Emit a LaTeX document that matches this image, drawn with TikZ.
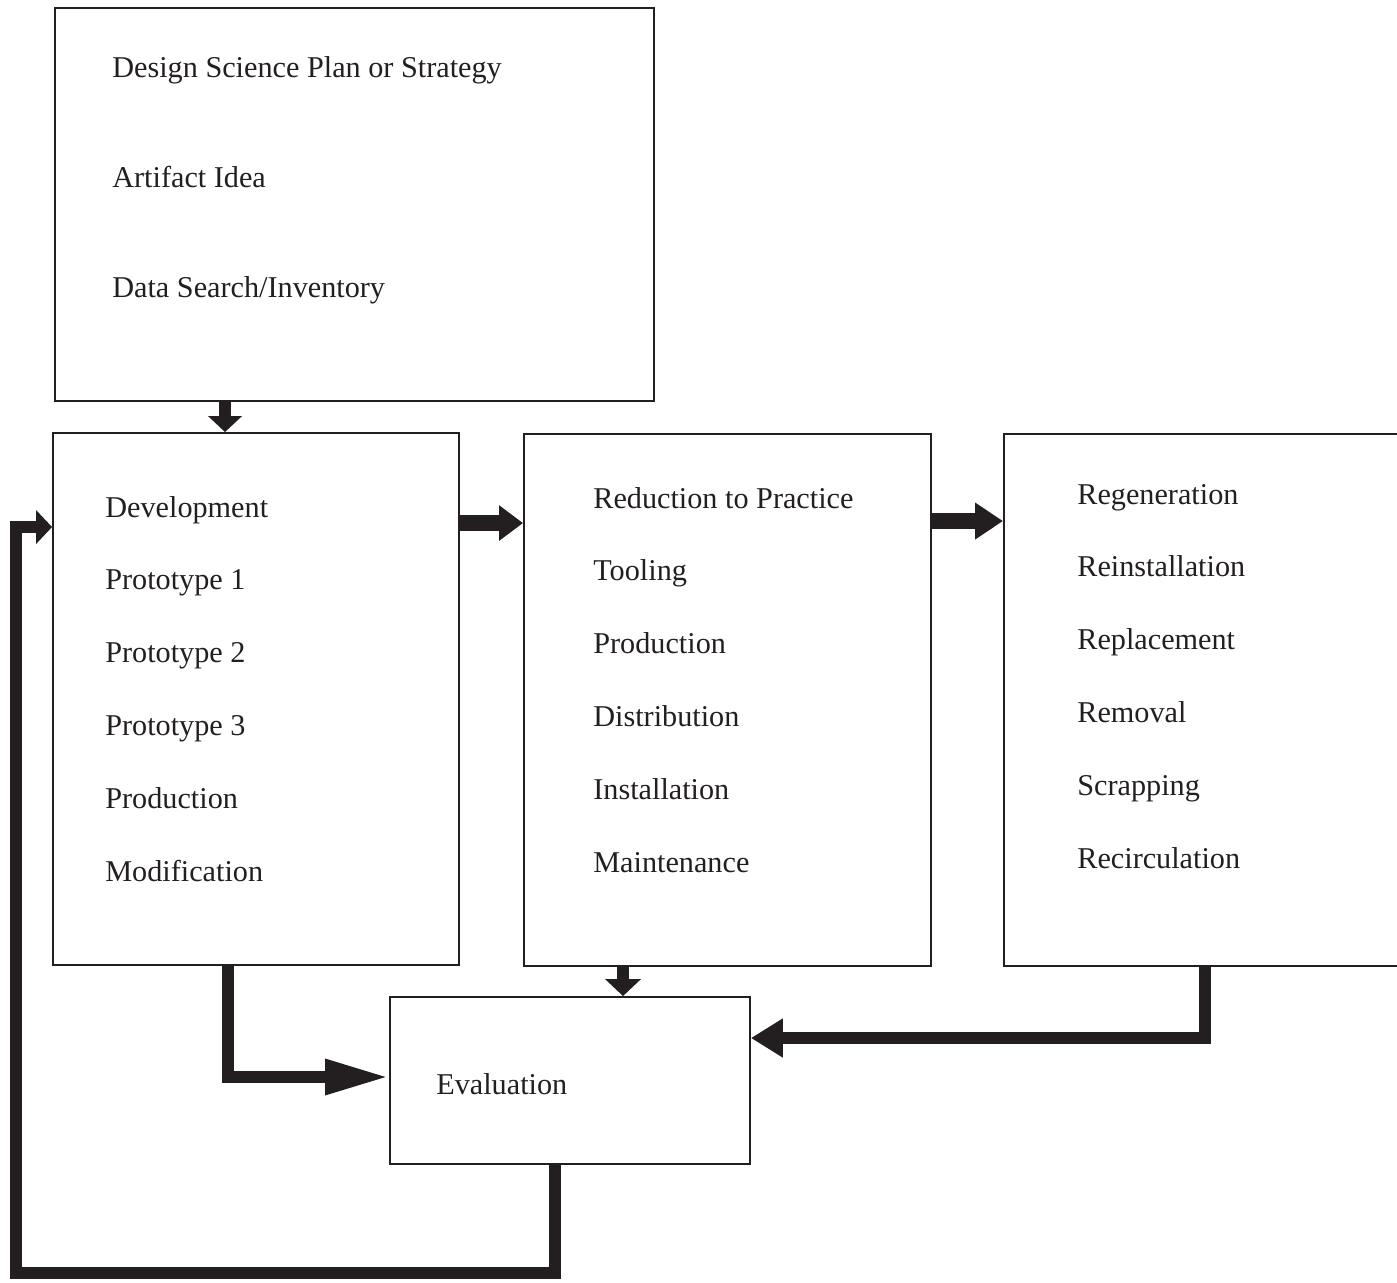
\documentclass[tikz,border=0pt]{standalone}
\usepackage{fontspec}
\setmainfont{Liberation Serif}
\usetikzlibrary{arrows.meta,calc,positioning}
\definecolor{ink}{HTML}{231F20}

\begin{document}
\begin{tikzpicture}[x=0.02cm, y=-0.02cm,
		box/.style={draw=ink, line width=1.1pt, rectangle, inner sep=0pt},
		item/.style={anchor=mid west, inner sep=0pt, text=ink, font=\fontsize{17.2}{20}\selectfont},
		flow/.style={draw=ink, line width=0.24cm, line join=miter},
		flowwide/.style={draw=ink, line width=0.32cm, line join=miter}]
	\useasboundingbox (0,0) rectangle (1397,1282);
	% boxes
	\node[box, minimum width=11.98cm, minimum height=7.86cm] (plan) at (354.5,204.5) {};
	\node[box, minimum width=8.12cm, minimum height=10.64cm] (dev) at (256,699) {};
	\node[box, minimum width=8.14cm, minimum height=10.64cm] (red) at (727.5,700) {};
	\node[box, minimum width=8.12cm, minimum height=10.64cm] (regen) at (1207,700) {};
	\node[box, minimum width=7.2cm, minimum height=3.34cm] (eval) at (570,1080.5) {};
	% texts
	\node[item] (plan-1) at (112,73) {Design Science Plan or Strategy};
	\node[item] (plan-2) at (112,183) {Artifact Idea};
	\node[item] (plan-3) at (112,293) {Data Search/Inventory};
	\foreach \t [count=\i from 0] in {Development, Prototype 1, Prototype 2, Prototype 3, Production, Modification}
		\node[item] (dev-\i) at (105,513+72.8*\i) {\t};
	\foreach \t [count=\i from 0] in {Reduction to Practice, Tooling, Production, Distribution, Installation, Maintenance}
		\node[item] (red-\i) at (593,504+72.8*\i) {\t};
	\foreach \t [count=\i from 0] in {Regeneration, Reinstallation, Replacement, Removal, Scrapping, Recirculation}
		\node[item] (regen-\i) at (1077,500+72.8*\i) {\t};
	\node[item] (eval-1) at (436,1090) {Evaluation};
	% connectors
	\coordinate (loop) at (16,1273);
	\draw[flow, -{Triangle[length=0.32cm, width=0.66cm]}] ([xshift=-2.59cm]plan.south) -- ([xshift=-2.59cm]plan.south |- dev.north);
	\draw[flowwide, -{Triangle[length=0.48cm, width=0.68cm]}] ([yshift=3.52cm]dev.east) -- ([yshift=3.52cm]dev.east -| red.west);
	\draw[flowwide, -{Triangle[length=0.56cm, width=0.7cm]}] ([yshift=3.58cm]red.east) -- ([yshift=3.58cm]red.east -| regen.west);
	\draw[flow, -{Triangle[length=1.28cm, width=0.66cm]}] ([xshift=-0.56cm]dev.south) |- ([yshift=0.07cm]eval.west);
	\draw[flow, -{Triangle[length=0.34cm, width=0.7cm]}] ([xshift=-2.09cm]red.south) -- ([xshift=-2.09cm]red.south |- eval.north);
	\draw[flow, -{Triangle[length=0.64cm, width=0.74cm]}] ([xshift=-0.04cm]regen.south) |- ([yshift=0.85cm]eval.east);
	\draw[flow, -{Triangle[length=0.32cm, width=0.66cm]}] ([xshift=-0.3cm]eval.south) |- (loop) |- ([yshift=3.44cm]dev.west);
\end{tikzpicture}
\end{document}
